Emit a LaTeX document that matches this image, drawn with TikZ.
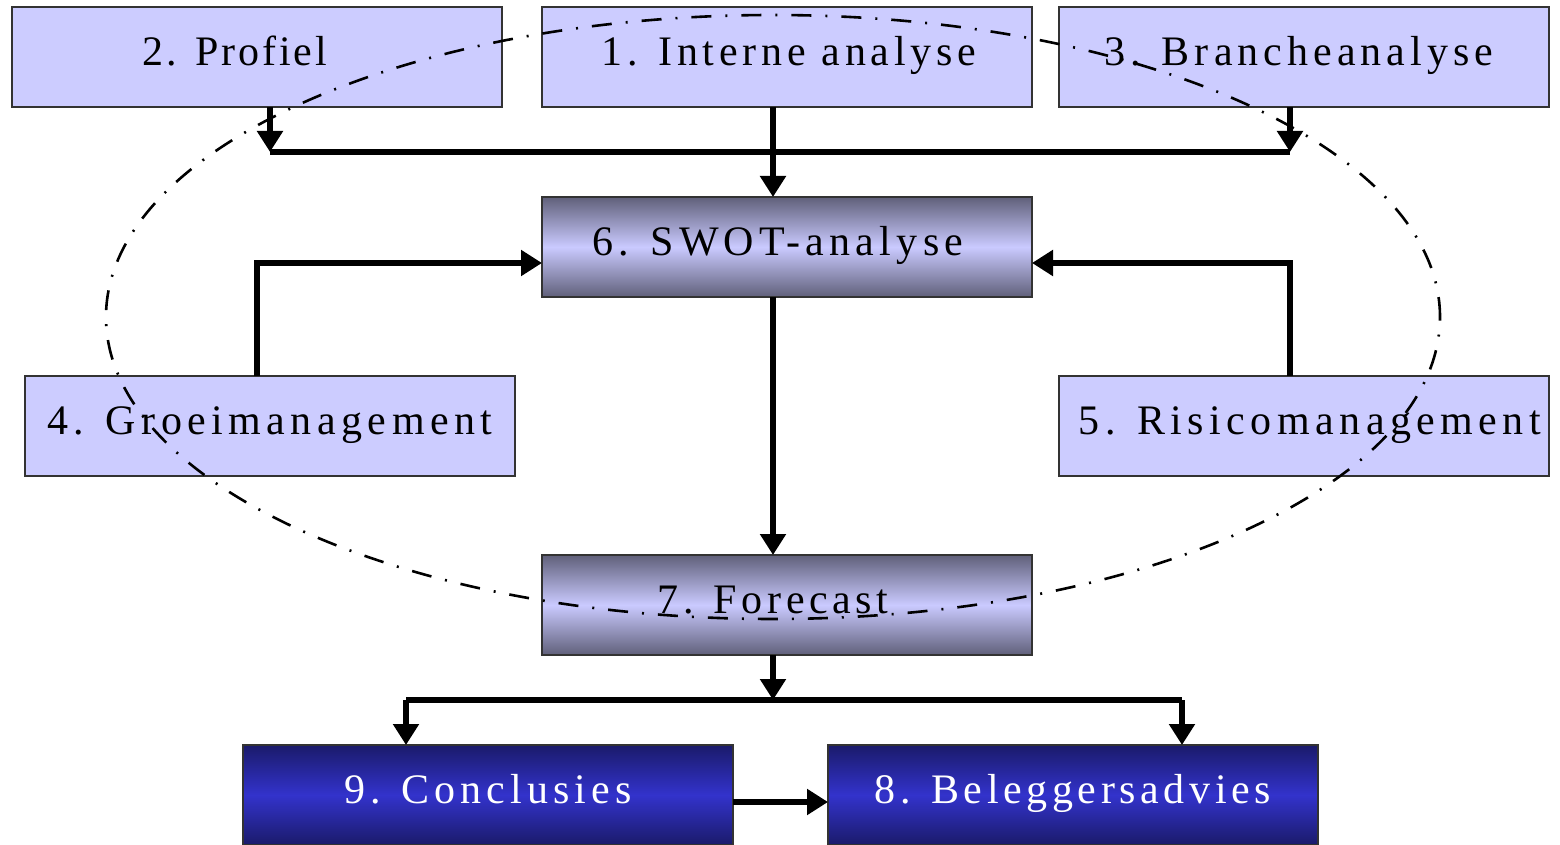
\documentclass[tikz,border=0pt]{standalone}
\usepackage{fontspec}
\setmainfont{Liberation Serif}
\usetikzlibrary{arrows.meta}

\definecolor{paleblue}{RGB}{204,204,255}
\definecolor{edgegray}{RGB}{51,51,51}
\definecolor{slatedark}{RGB}{96,96,122}
\definecolor{slatelight}{RGB}{202,202,255}
\definecolor{navydark}{RGB}{26,26,106}
\definecolor{navylight}{RGB}{51,51,204}

\tikzset{
  boxbase/.style={draw=edgegray, line width=0.6pt, minimum width=245pt,
    minimum height=50pt, inner sep=0pt, outer sep=0pt,
    text height=13.9pt, text depth=5pt},
  plainbox/.style={boxbase, fill=paleblue},
  slatebox/.style={boxbase, top color=slatedark, bottom color=slatedark,
    middle color=slatelight},
  navybox/.style={boxbase, top color=navydark, bottom color=navydark,
    middle color=navylight, text=white},
  ls/.style={font=\fontsize{21}{25}\selectfont\addfontfeatures{LetterSpace=#1}},
  tx/.style={execute at begin node={\hspace*{#1}},
    execute at end node={\hspace*{-#1}}},
  link/.style={line width=2.6pt, draw=black},
  arr/.style={link, -{Triangle[length=10.5pt,width=12.5pt]}},
  loop/.style={line width=1.3pt, dash pattern=on 10pt off 7pt on 1pt off 7pt}
}

\begin{document}
\begin{tikzpicture}[x=0.5pt, y=-0.5pt]
  \useasboundingbox (0,0) rectangle (1560,845);

  % boxes
  \node[plainbox, ls=7, tx=-11pt]    (prof)    at (257,57)  {2. Profiel};
  \node[plainbox, ls=11.5, tx=1pt]   (intern)  at (787,57)  {1. Interne analyse};
  \node[plainbox, ls=12, tx=-2.5pt]  (branche) at (1304,57) {3. Brancheanalyse};
  \node[slatebox, ls=12.5, tx=-4.5pt](swot)    at (787,247) {6. SWOT-analyse};
  \node[plainbox, ls=13]             (groei)   at (270,426) {4. Groeimanagement};
  \node[plainbox, ls=13, tx=3pt]     (risico)  at (1304,426){5. Risicomanagement};
  \node[slatebox, ls=11, tx=-7pt]    (fore)    at (787,605) {7. Forecast};
  \node[navybox, ls=12]              (concl)   at (488,795) {9. Conclusies};
  \node[navybox, ls=11]              (beleg)   at (1073,795){8. Beleggersadvies};

  % junction points
  \coordinate (spine) at (773,0);
  \coordinate (jl) at (270,152);
  \coordinate (jr) at (1290,152);
  \coordinate (gx) at (257,263);
  \coordinate (rx) at (1290,263);
  \coordinate (bl) at (406,700);
  \coordinate (br) at (1182,700);

  % top row into SWOT
  \draw[arr] (prof.south -| jl) -- (jl);
  \draw[arr] (branche.south -| jr) -- (jr);
  \draw[link] (jl) -- (jr);
  \draw[arr] (intern.south -| spine) -- (swot.north -| spine);

  % side inputs
  \draw[arr] (groei.north -| gx) -- (gx) -- (swot.west |- gx);
  \draw[arr] (risico.north -| rx) -- (rx) -- (swot.east |- rx);

  % SWOT to forecast
  \draw[arr] (swot.south -| spine) -- (fore.north -| spine);

  % forecast to the two results
  \draw[arr] (fore.south -| spine) -- (spine |- bl);
  \draw[link] (bl) -- (br);
  \draw[arr] (bl) -- (concl.north -| bl);
  \draw[arr] (br) -- (beleg.north -| br);
  \draw[arr] (concl.east |- 0,802) -- (beleg.west |- 0,802);

  % dash-dot ring
  \draw[loop] (773,317) ellipse [x radius=333.5pt, y radius=151pt];
\end{tikzpicture}
\end{document}
